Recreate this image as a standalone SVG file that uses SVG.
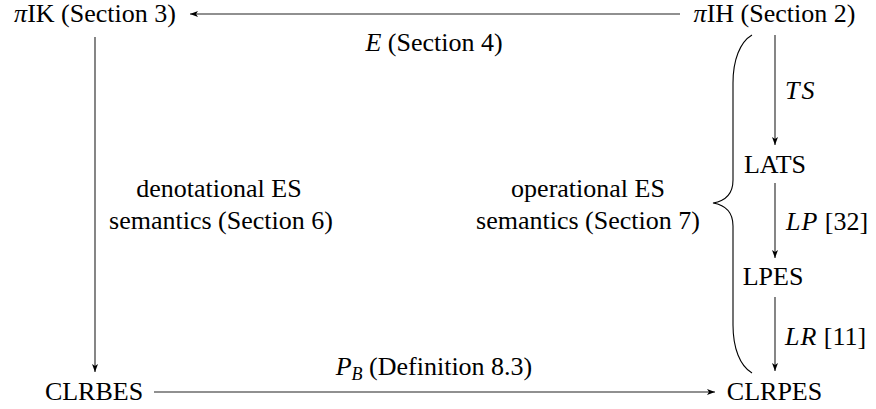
<svg xmlns="http://www.w3.org/2000/svg" width="876" height="409" viewBox="0 0 876 409" font-family="'Liberation Serif', 'Times New Roman', Tinos, 'DejaVu Serif', serif">
<style>
text{font-family:'Liberation Serif','Times New Roman',Tinos,'DejaVu Serif',serif;font-size:26px;fill:#000}
.m{text-anchor:middle}
.i{font-style:italic}
.c line{stroke:#222;stroke-width:1.1}
.brace{fill:none;stroke:#000;stroke-width:1.1}
</style>
<defs>
<marker id="ah" viewBox="0 0 8 6" refX="8" refY="3" markerWidth="8" markerHeight="6" orient="auto" markerUnits="userSpaceOnUse">
<path d="M0,0 L8,3 L0,6 L2,3 z" fill="#000"/>
</marker>
</defs>
<g class="c" id="connectors">
<line x1="680" y1="14" x2="190" y2="14" marker-end="url(#ah)"/>
<line x1="95" y1="37" x2="95" y2="372" marker-end="url(#ah)"/>
<line x1="154" y1="392" x2="715" y2="392" marker-end="url(#ah)"/>
<line x1="775" y1="35" x2="775" y2="145" marker-end="url(#ah)"/>
<line x1="775" y1="183" x2="775" y2="258" marker-end="url(#ah)"/>
<line x1="775" y1="297" x2="775" y2="371" marker-end="url(#ah)"/>
</g>
<g id="n-piIK"><text class="m" x="95" y="22"><tspan class="i">π</tspan>IK (Section 3)</text></g>
<g id="n-piIH"><text class="m" x="774.5" y="22"><tspan class="i">π</tspan>IH (Section 2)</text></g>
<g id="n-CLRBES"><text class="m" x="94" y="400">CLRBES</text></g>
<g id="n-CLRPES"><text class="m" x="774.5" y="400">CLRPES</text></g>
<g id="n-LATS"><text class="m" x="775" y="173">LATS</text></g>
<g id="n-LPES"><text class="m" x="773" y="285">LPES</text></g>
<g id="labels">
<text class="m" x="434" y="51"><tspan class="i">E</tspan> (Section 4)</text>
<text class="m" x="434" y="375"><tspan class="i">P</tspan><tspan class="i" font-size="18" dy="5">B</tspan><tspan dy="-5"> (Definition 8.3)</tspan></text>
<text class="i" x="785" y="99" letter-spacing="2">TS</text>
<text x="786" y="230"><tspan class="i" letter-spacing="1">LP</tspan> [32]</text>
<text x="785" y="345"><tspan class="i" letter-spacing="1">LR</tspan> [11]</text>
<text class="m" x="219" y="197">denotational ES</text>
<text class="m" x="221" y="229">semantics (Section 6)</text>
<text class="m" x="588" y="197">operational ES</text>
<text class="m" x="588" y="229">semantics (Section 7)</text>
</g>
<path class="brace" d="M752,35 C740,42 733,60 733,83 L733,180 C733,195 725,201 713,203 C725,205 733,211 733,226 L733,325 C733,348 740,366 752,373"/>
</svg>
